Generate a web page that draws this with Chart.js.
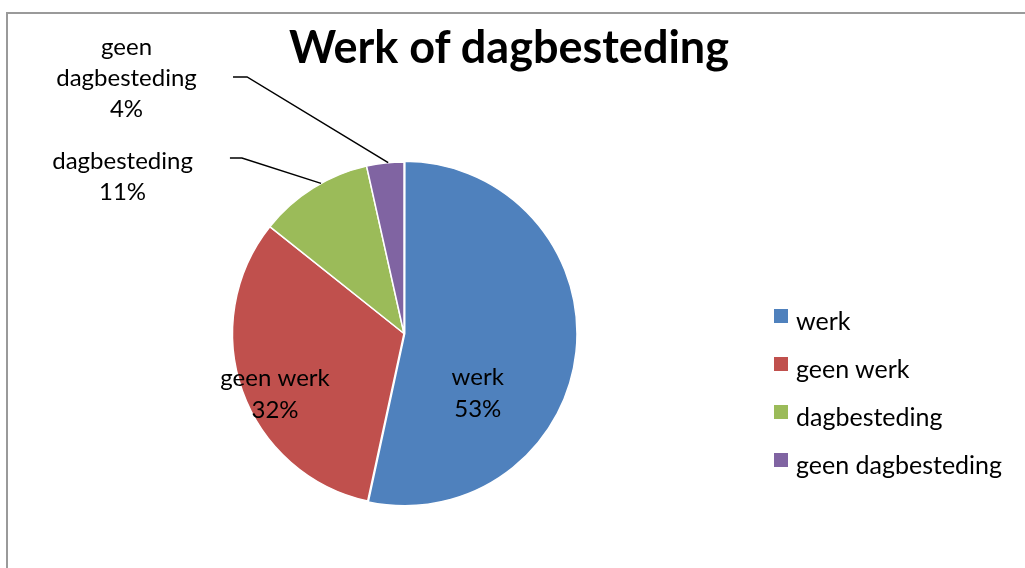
<!DOCTYPE html>
<html>
<head>
<meta charset="utf-8">
<script src="https://cdn.jsdelivr.net/npm/chart.js@4.4.1/dist/chart.umd.min.js"></script>
<style>
  body { margin: 0; width: 1025px; height: 568px; overflow: hidden; background: #fff; font-family: Lato, sans-serif; color: #000; }
  #frame { position: absolute; left: 6px; top: 12px; width: 2000px; height: 1000px; border: 2px solid #9a9a9a; box-sizing: border-box; }
  #chartTitle { position: absolute; left: 209px; top: 24px; width: 600px; text-align: center; font-weight: bold; font-size: 45px; line-height: 45px; }
  #chartWrap { position: absolute; left: 0; top: 0; width: 1025px; height: 568px; }
  #legend { position: absolute; left: 774px; top: 296px; }
  .legendRow { position: relative; height: 48px; width: 250px; }
  .legendBox { position: absolute; left: 0; top: 13px; width: 14px; height: 14px; }
  .legendText { position: absolute; left: 22px; top: 0; font-size: 25px; line-height: 48px; white-space: nowrap; }
</style>
</head>
<body>
<div id="frame"></div>
<div id="chartWrap"><canvas id="pieChart" width="1025" height="568"></canvas></div>
<div id="chartTitle">Werk of dagbesteding</div>
<div id="legend"></div>
<script>
const categories = ['werk', 'geen werk', 'dagbesteding', 'geen dagbesteding'];
const shares = [53.4, 32.3, 10.8, 3.5];
const sliceColors = ['#4F81BD', '#C0504D', '#9BBB59', '#8064A2'];

// where each data label sits, as fractions of the pie radius from its centre
const labelSpots = [
    { dx: 0.43, dy: 0.35 },
    { dx: -0.752, dy: 0.353 },
    { dx: -1.641, dy: -0.915, stub: { x0: -1.015, x1: -0.945, y: -1.023 } },
    { dx: -1.618, dy: -1.49, wrap: true, stub: { x0: -0.997, x1: -0.915, y: -1.496 } }
];

// build the legend
const legend = document.getElementById('legend');
categories.forEach((name, i) => {
    const row = document.createElement('div');
    row.className = 'legendRow';
    row.innerHTML = '<span class="legendBox" style="background:' + sliceColors[i] + '"></span>' +
        '<span class="legendText">' + name + '</span>';
    legend.appendChild(row);
});

// draws the labels and leader lines next to the slices
const sliceLabels = {
    id: 'sliceLabels',
    afterDatasetsDraw(chart) {
        const ctx = chart.ctx;
        const meta = chart.getDatasetMeta(0);
        ctx.save();
        ctx.fillStyle = '#000';
        ctx.strokeStyle = '#000';
        ctx.lineWidth = 1.5;
        ctx.font = '24px Lato';
        ctx.textAlign = 'center';
        ctx.textBaseline = 'middle';
        meta.data.forEach((arc, i) => {
            const p = arc.getProps(['x', 'y', 'startAngle', 'endAngle', 'outerRadius'], true);
            const r = p.outerRadius;
            const spot = labelSpots[i];
            const pct = Math.round(shares[i]) + '%';
            const lines = spot.wrap ? categories[i].split(' ').concat([pct]) : [categories[i], pct];
            const lh = spot.stub ? 31 : 32;
            const lx = p.x + spot.dx * r;
            let ly = p.y + spot.dy * r - (lines.length - 1) * lh / 2;
            lines.forEach(t => {
                ctx.fillText(t, lx, ly);
                ly += lh;
            });
            if (spot.stub) {
                const a = p.startAngle + 0.58 * (p.endAngle - p.startAngle);
                const sy = p.y + spot.stub.y * r;
                ctx.beginPath();
                ctx.moveTo(p.x + spot.stub.x0 * r, sy);
                ctx.lineTo(p.x + spot.stub.x1 * r, sy);
                ctx.lineTo(p.x + Math.cos(a) * r, p.y + Math.sin(a) * r);
                ctx.stroke();
            }
        });
        ctx.restore();
    }
};

new Chart(document.getElementById('pieChart'), {
    type: 'pie',
    data: {
        labels: categories,
        datasets: [{
            data: shares,
            backgroundColor: sliceColors,
            borderColor: '#ffffff',
            borderWidth: 1.5,
            offset: [3, 0, 0, 0]
        }]
    },
    options: {
        responsive: false,
        animation: false,
        radius: 171.5,
        layout: { padding: { left: 0, right: 217, top: 99, bottom: 0 } },
        plugins: {
            legend: { display: false },
            tooltip: { enabled: false },
            title: { display: false }
        }
    },
    plugins: [sliceLabels]
});
</script>
</body>
</html>
